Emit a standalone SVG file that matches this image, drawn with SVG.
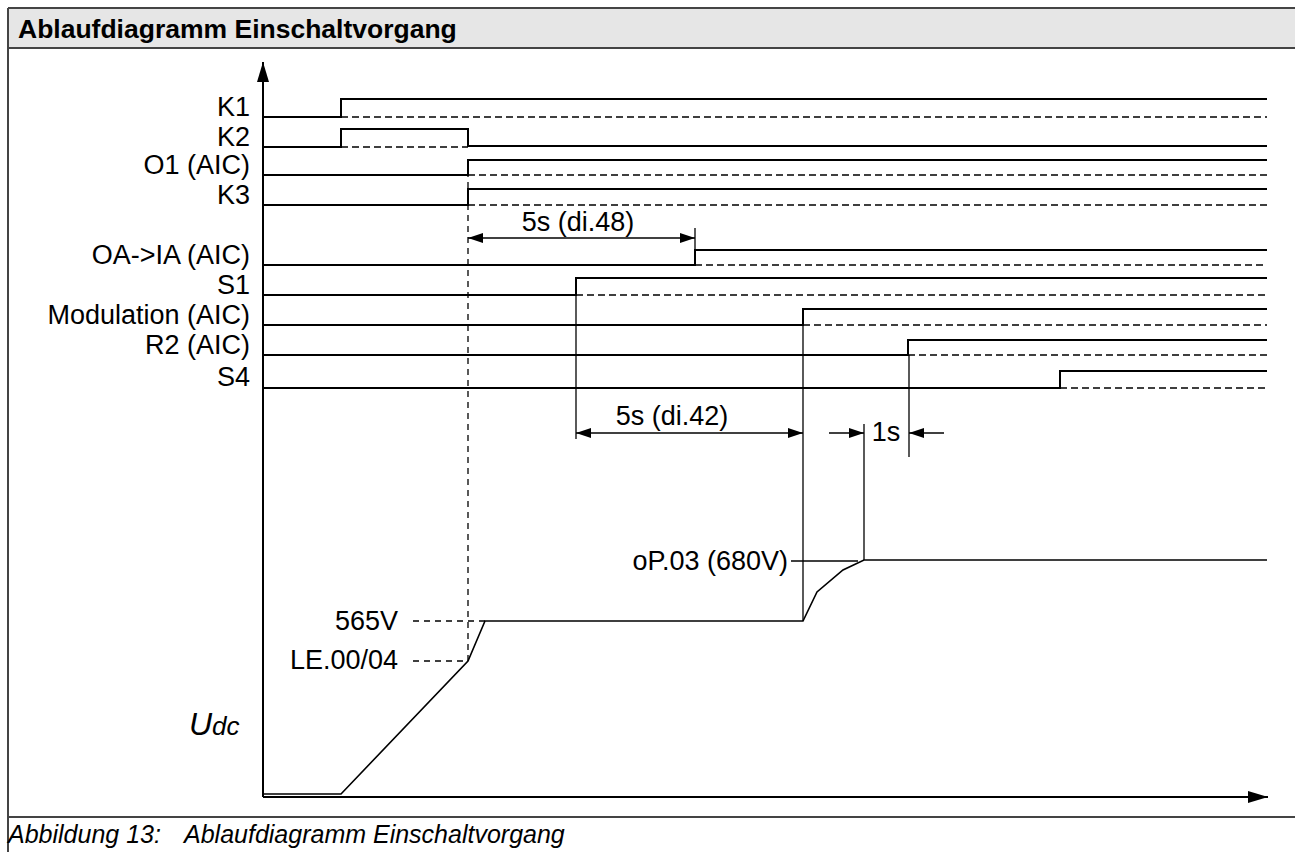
<svg xmlns="http://www.w3.org/2000/svg" width="1295" height="852" viewBox="0 0 1295 852">
<style>
  text { font-family: "Liberation Sans", Arial, sans-serif; fill: #000; }
  .title { font-size: 26.5px; font-weight: bold; }
  .lbl { font-size: 27px; text-anchor: end; }
  .dim { font-size: 27px; }
  .cap { font-size: 25px; font-style: italic; }
  .sig { fill: none; stroke: #000; stroke-width: 2; }
  .dash { fill: none; stroke: #000; stroke-width: 1.5; stroke-dasharray: 7 4; }
  .vdash { fill: none; stroke: #000; stroke-width: 1.3; stroke-dasharray: 6 5; }
  .thin { fill: none; stroke: #000; stroke-width: 1.3; }
  .frame { fill: none; stroke: #444; stroke-width: 2; }
</style>
<defs>
  <marker id="ah" markerUnits="userSpaceOnUse" markerWidth="15" markerHeight="10" refX="15" refY="5" orient="auto-start-reverse">
    <path d="M0,0 L15,5 L0,10 z" fill="#000"/>
  </marker>
  <marker id="axah" markerUnits="userSpaceOnUse" markerWidth="20" markerHeight="12" refX="20" refY="6" orient="auto">
    <path d="M0,0 L20,6 L0,12 z" fill="#000"/>
  </marker>
</defs>
<rect width="1295" height="852" fill="#fff"/>
<g id="frame">
  <rect x="8" y="8" width="1295" height="40" fill="#e6e6e6"/>
  <line class="frame" x1="8" y1="8" x2="1295" y2="8"/>
  <line class="frame" x1="8" y1="48" x2="1295" y2="48"/>
  <line class="frame" x1="8" y1="8" x2="8" y2="852"/>
  <line class="frame" x1="8" y1="817" x2="1295" y2="817"/>
  <text class="title" x="18" y="38">Ablaufdiagramm Einschaltvorgang</text>
  <text class="cap" x="8" y="843">Abbildung 13:<tspan x="184">Ablaufdiagramm Einschaltvorgang</tspan></text>
</g>
<g id="axes">
  <line class="sig" x1="263" y1="797" x2="263" y2="62" marker-end="url(#axah)"/>
  <line class="sig" x1="263" y1="797" x2="1268" y2="797" marker-end="url(#axah)"/>
</g>
<g id="sig-K1">
  <text class="lbl" x="250" y="116">K1</text>
  <path class="sig" d="M263,117 H341 V99 H1267"/>
  <path class="dash" d="M341,117 H1267"/>
</g>
<g id="sig-K2">
  <text class="lbl" x="250" y="146">K2</text>
  <path class="sig" d="M263,147 H341 V129 H468 V146 H1267"/>
  <path class="dash" d="M341,147 H468"/>
</g>
<g id="sig-O1">
  <text class="lbl" x="250" y="174">O1 (AIC)</text>
  <path class="sig" d="M263,175 H468 V160 H1267"/>
  <path class="dash" d="M468,175 H1267"/>
</g>
<g id="sig-K3">
  <text class="lbl" x="250" y="204">K3</text>
  <path class="sig" d="M263,205 H468 V189 H1267"/>
  <path class="dash" d="M468,205 H1267"/>
</g>
<g id="sig-OA-IA">
  <text class="lbl" x="250" y="264">OA-&gt;IA (AIC)</text>
  <path class="sig" d="M263,265 H695 V250 H1267"/>
  <path class="dash" d="M695,265 H1267"/>
</g>
<g id="sig-S1">
  <text class="lbl" x="250" y="294">S1</text>
  <path class="sig" d="M263,295 H576 V278 H1267"/>
  <path class="dash" d="M576,295 H1267"/>
</g>
<g id="sig-Modulation">
  <text class="lbl" x="250" y="324">Modulation (AIC)</text>
  <path class="sig" d="M263,325 H803 V309 H1267"/>
  <path class="dash" d="M803,325 H1267"/>
</g>
<g id="sig-R2">
  <text class="lbl" x="250" y="354">R2 (AIC)</text>
  <path class="sig" d="M263,355 H908 V340 H1267"/>
  <path class="dash" d="M908,355 H1267"/>
</g>
<g id="sig-S4">
  <text class="lbl" x="250" y="386">S4</text>
  <path class="sig" d="M263,388 H1060 V371 H1267"/>
  <path class="dash" d="M1060,388 H1267"/>
</g>
<g id="udc">
  <text x="189" y="735" style="font-size:32px;font-style:italic">U<tspan style="font-size:26px">dc</tspan></text>
  <path class="thin" d="M263,794 H341 L468,661 L485,621 H803 L817,592 L843,570 L864,560 H1267" style="stroke-width:1.6"/>
  <text class="dim" x="398" y="630" text-anchor="end">565V</text>
  <text class="dim" x="398" y="669" text-anchor="end">LE.00/04</text>
  <text class="dim" x="788" y="570" text-anchor="end">oP.03 (680V)</text>
  <path class="vdash" d="M413,621 H485"/>
  <path class="vdash" d="M413,661 H468"/>
  <line class="thin" x1="791" y1="561" x2="858" y2="561"/>
</g>
<g id="connectors">
  <path class="vdash" d="M468,160 V661"/>
  <line class="thin" x1="695" y1="228" x2="695" y2="265"/>
  <line class="thin" x1="468" y1="238" x2="695" y2="238" marker-start="url(#ah)" marker-end="url(#ah)"/>
  <text class="dim" x="578" y="231" text-anchor="middle">5s (di.48)</text>
  <line class="thin" x1="576" y1="295" x2="576" y2="439"/>
  <line class="thin" x1="803" y1="325" x2="803" y2="621"/>
  <line class="thin" x1="576" y1="433" x2="803" y2="433" marker-start="url(#ah)" marker-end="url(#ah)"/>
  <text class="dim" x="672" y="425" text-anchor="middle">5s (di.42)</text>
  <line class="thin" x1="864" y1="424" x2="864" y2="560"/>
  <line class="thin" x1="909" y1="355" x2="909" y2="457"/>
  <line class="thin" x1="829" y1="433" x2="864" y2="433" marker-end="url(#ah)"/>
  <line class="thin" x1="944" y1="433" x2="909" y2="433" marker-end="url(#ah)"/>
  <text class="dim" x="886" y="441" text-anchor="middle">1s</text>
</g>
</svg>
